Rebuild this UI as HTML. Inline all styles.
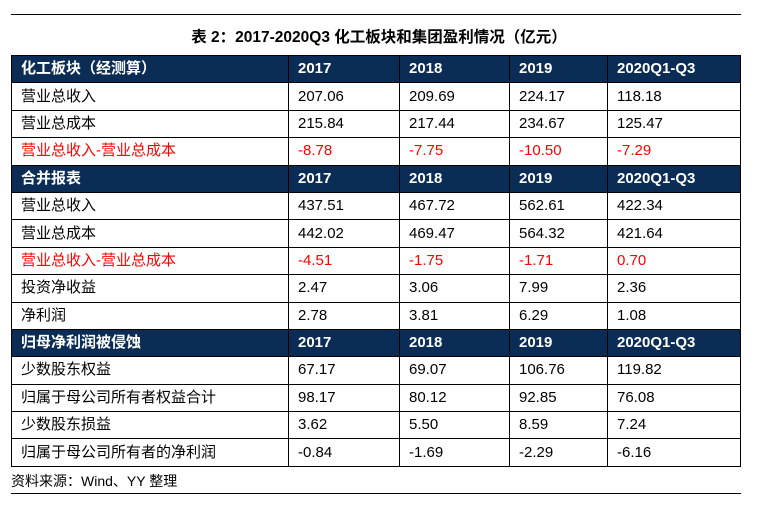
<!DOCTYPE html>
<html><head><meta charset="utf-8"><style>
body{margin:0;width:758px;height:509px;background:#fff;position:relative;overflow:hidden;font-family:"Liberation Sans","Noto Sans CJK SC",sans-serif;}
.hl{position:absolute;height:1px;background:#000;}
.title{position:absolute;top:25px;left:0;width:758px;text-align:center;font-weight:bold;font-size:15.5px;color:#000;}
table{position:absolute;left:11px;top:55px;border-collapse:collapse;width:729px;table-layout:fixed;border:1.5px solid #000;}
td{border:1px solid #000;height:26.4px;padding:0 0 0 9px;font-size:15px;color:#000;white-space:nowrap;line-height:16px;}
tr.h td{background:#0b2d55;color:#fff;font-weight:bold;}
tr.r td{color:#ff0000;}
.src{position:absolute;left:11px;top:471px;font-size:14px;}
</style></head><body>
<div class="hl" style="top:14px;left:11px;width:730px"></div>
<div class="title">表 2：2017-2020Q3 化工板块和集团盈利情况（亿元）</div>
<table>
<colgroup><col style="width:277px"><col style="width:111px"><col style="width:110px"><col style="width:98px"><col style="width:133px"></colgroup>
<tr class="h"><td>化工板块（经测算）</td><td>2017</td><td>2018</td><td>2019</td><td>2020Q1-Q3</td></tr>
<tr><td>营业总收入</td><td>207.06</td><td>209.69</td><td>224.17</td><td>118.18</td></tr>
<tr><td>营业总成本</td><td>215.84</td><td>217.44</td><td>234.67</td><td>125.47</td></tr>
<tr class="r"><td>营业总收入-营业总成本</td><td>-8.78</td><td>-7.75</td><td>-10.50</td><td>-7.29</td></tr>
<tr class="h"><td>合并报表</td><td>2017</td><td>2018</td><td>2019</td><td>2020Q1-Q3</td></tr>
<tr><td>营业总收入</td><td>437.51</td><td>467.72</td><td>562.61</td><td>422.34</td></tr>
<tr><td>营业总成本</td><td>442.02</td><td>469.47</td><td>564.32</td><td>421.64</td></tr>
<tr class="r"><td>营业总收入-营业总成本</td><td>-4.51</td><td>-1.75</td><td>-1.71</td><td>0.70</td></tr>
<tr><td>投资净收益</td><td>2.47</td><td>3.06</td><td>7.99</td><td>2.36</td></tr>
<tr><td>净利润</td><td>2.78</td><td>3.81</td><td>6.29</td><td>1.08</td></tr>
<tr class="h"><td>归母净利润被侵蚀</td><td>2017</td><td>2018</td><td>2019</td><td>2020Q1-Q3</td></tr>
<tr><td>少数股东权益</td><td>67.17</td><td>69.07</td><td>106.76</td><td>119.82</td></tr>
<tr><td>归属于母公司所有者权益合计</td><td>98.17</td><td>80.12</td><td>92.85</td><td>76.08</td></tr>
<tr><td>少数股东损益</td><td>3.62</td><td>5.50</td><td>8.59</td><td>7.24</td></tr>
<tr><td>归属于母公司所有者的净利润</td><td>-0.84</td><td>-1.69</td><td>-2.29</td><td>-6.16</td></tr>
</table>
<div class="src">资料来源：Wind、YY 整理</div>
<div class="hl" style="top:493px;left:11px;width:730px"></div>
</body></html>
